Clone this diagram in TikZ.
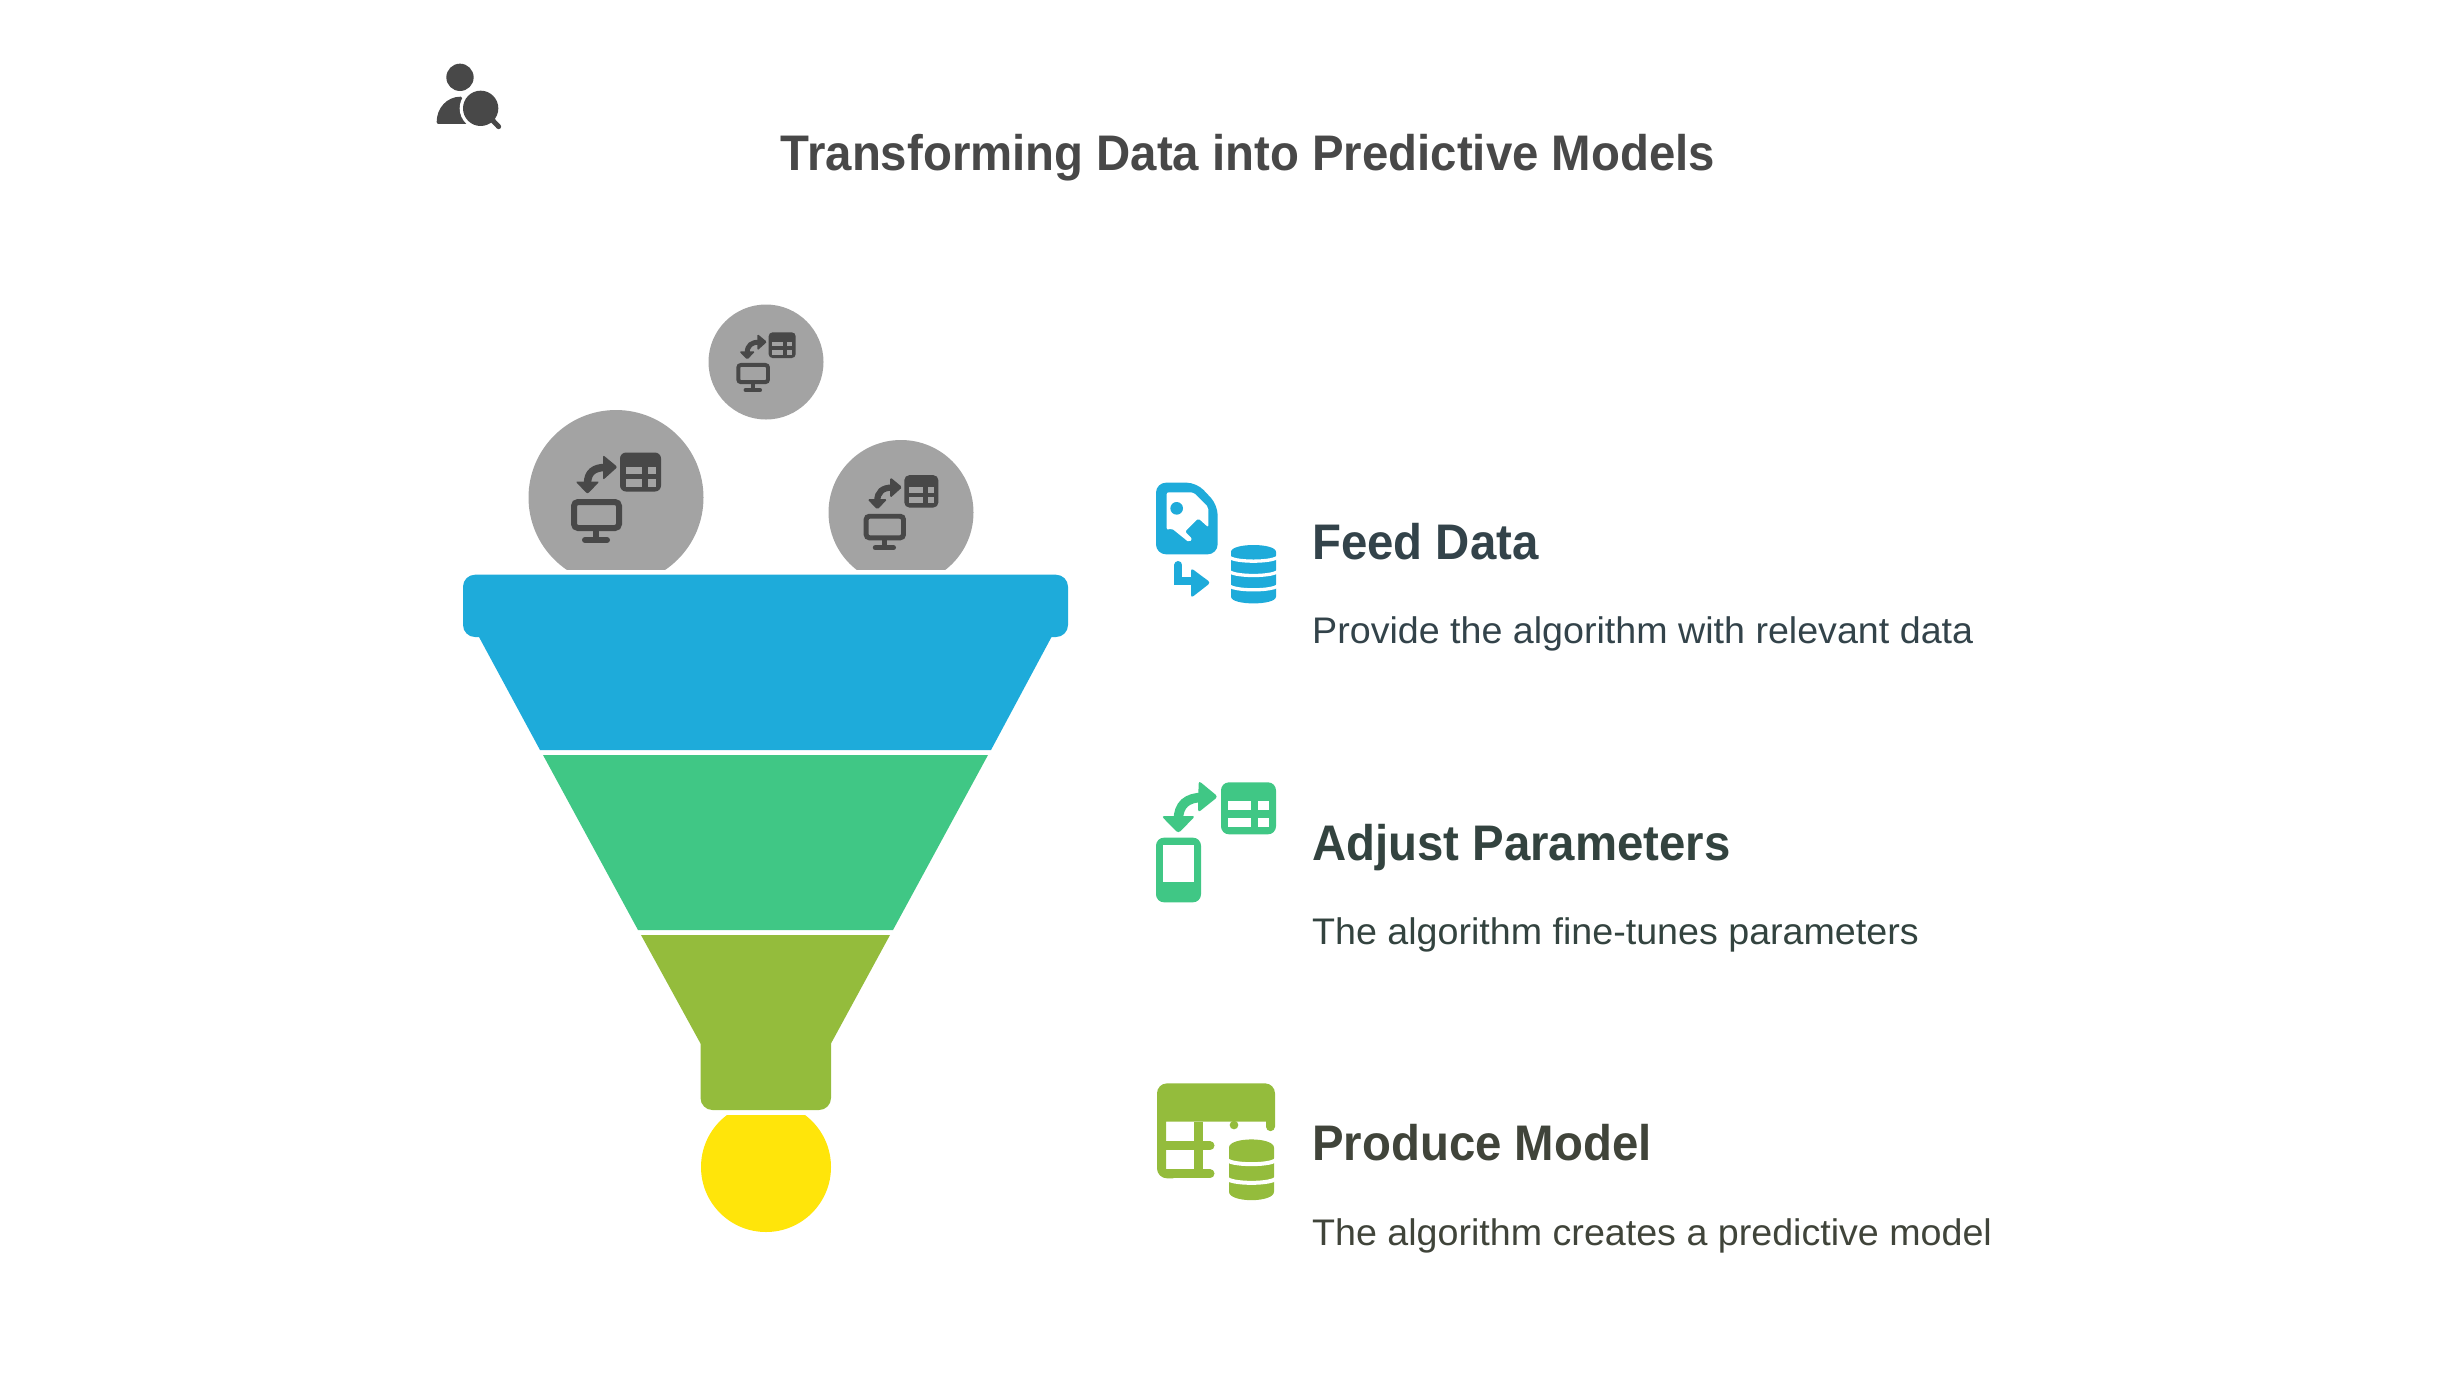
\documentclass[tikz,border=0pt]{standalone}
\usepackage{fontspec}
\setmainfont{Liberation Sans}
\newfontfamily\labelfont[FakeStretch=0.947]{Liberation Sans}
\newfontfamily\bodyfont[FakeStretch=1.017]{Liberation Sans}
\definecolor{FunnelBlue}{RGB}{30,171,218}
\definecolor{FunnelGreen}{RGB}{64,199,133}
\definecolor{FunnelOlive}{RGB}{148,188,60}
\definecolor{DropYellow}{RGB}{255,229,10}
\definecolor{BallGray}{RGB}{163,163,163}
\definecolor{IconDark}{RGB}{72,72,72}
\definecolor{FeedText}{RGB}{51,67,74}
\definecolor{AdjustText}{RGB}{51,67,63}
\definecolor{ProduceText}{RGB}{64,68,58}
\usetikzlibrary{positioning}
\tikzstyle{titletext} = [anchor=base, inner sep=0pt, text=IconDark, font=\labelfont\bfseries\fontsize{50}{60}\selectfont]
\tikzstyle{headtext} = [anchor=base west, inner sep=0pt, font=\labelfont\bfseries\fontsize{50}{60}\selectfont]
\tikzstyle{desctext} = [anchor=base west, inner sep=0pt, font=\bodyfont\fontsize{37}{44}\selectfont]
\newcommand{\swapicon}[3]{%
  \begin{scope}[shift={(#1,#2)}, scale=#3]
    \fill[IconDark, rounded corners=#3*6pt] (4,-45) rectangle (45,-6);
    \fill[BallGray] (9.5,-31) rectangle (26,-24);
    \fill[BallGray] (32,-31) rectangle (40,-24);
    \fill[BallGray] (9.5,-18.5) rectangle (26,-11);
    \fill[BallGray] (32,-18.5) rectangle (40,-11);
    \draw[IconDark, line width=#3*7.5pt] (-28.5,-14) .. controls (-28.5,-25) and (-22,-30) .. (-11,-30);
    \fill[IconDark, rounded corners=#3*2pt] (-40.5,-16) -- (-16.5,-16) -- (-28.5,-3.5) -- cycle;
    \fill[IconDark, rounded corners=#3*2pt] (-13,-42.5) -- (1.5,-30.5) -- (-13,-17.5) -- cycle;
    \draw[IconDark, line width=#3*6pt, rounded corners=#3*4pt] (-42,4.5) rectangle (3,30.5);
    \draw[IconDark, line width=#3*6pt] (-20,33) -- (-20,42);
    \draw[IconDark, line width=#3*6pt, line cap=round] (-31,42.5) -- (-9,42.5);
  \end{scope}}

\begin{document}
\begin{tikzpicture}[x=1pt, y=-1pt]
  \useasboundingbox (0,0) rectangle (2458,1385);
  % Floating balls above the funnel
  \begin{scope}
    \clip (400,280) rectangle (1100,569.6);
    \fill[BallGray] (616,497.5) circle[radius=87.5];
    \fill[BallGray] (901,512.5) circle[radius=72.5];
  \end{scope}
  \fill[BallGray] (766,362) circle[radius=57.5];
  \swapicon{616}{497.5}{1}
  \swapicon{901}{512.5}{0.83}
  \swapicon{766}{362}{0.66}
  % Funnel sections
  \fill[FunnelBlue] (540,750) -- (479,637) [rounded corners=12pt] -- (463,637) -- (463,574.7) -- (1068,574.7) -- (1068,637) [sharp corners] -- (1051.5,637) -- (991,750) -- cycle;
  \fill[FunnelGreen] (543,755) -- (988,755) -- (893,930) -- (638,930) -- cycle;
  \fill[FunnelOlive] (641,935) -- (890,935) -- (831,1043.5) [rounded corners=12pt] -- (831,1110) -- (700.5,1110) [sharp corners] -- (700.5,1043.5) -- cycle;
  \begin{scope}
    \clip (690,1115) rectangle (840,1240);
    \fill[DropYellow] (766,1167) circle[radius=65];
  \end{scope}
  % Person with magnifier
  \begin{scope}[shift={(420,50)}, scale=0.3333]
    \fill[IconDark] (120,82) circle[radius=41];
    \fill[IconDark, rounded corners=2pt] (50,222) .. controls (50,175) and (80,140) .. (128,140) -- (142,222) -- cycle;
    \fill[white] (182,175) circle[radius=63];
    \fill[IconDark] (182,175) circle[radius=53];
    \draw[IconDark, line width=5pt, line cap=round] (215,208) -- (236,230);
  \end{scope}
  % Feed icon
  \begin{scope}[shift={(1140,460)}, scale=0.3333, FunnelBlue]
    \fill[rounded corners=10pt] (48,68) -- (170,68) -- (233,135) -- (233,283) -- (48,283) -- cycle;
    \fill[white, rounded corners=2pt] (80,97) -- (160,97) -- (205,142) -- (205,202) -- (175,175) -- (135,215) -- (157,237) -- (147,247) -- (95,205) -- (80,210) -- cycle;
    \fill (110,145) circle[radius=19];
    \draw[line width=8pt, line cap=round] (115,315) -- (115,362) -- (170,362);
    \fill[rounded corners=3pt] (153,324) -- (212,368) -- (153,414) -- cycle;
    \fill (273,276) .. controls (273,248) and (408,248) .. (408,276) -- (408,410) .. controls (408,437) and (273,437) .. (273,410) -- cycle;
    \foreach \arcy in {287,330,373}
      \draw[white, line width=3.3pt] (266,\arcy) .. controls (266,\arcy+22) and (415,\arcy+22) .. (415,\arcy);
  \end{scope}
  % Adjust icon
  \begin{scope}[shift={(1140,770)}, scale=0.3333, FunnelGreen]
    \fill[rounded corners=8pt] (243,37) rectangle (408,193);
    \fill[white] (265,92) rectangle (333,120);
    \fill[white] (355,92) rectangle (387,120);
    \fill[white] (265,143) rectangle (333,172);
    \fill[white] (355,143) rectangle (387,172);
    \draw[line width=9.5pt] (115,150) .. controls (115,105) and (140,82) .. (190,82);
    \fill[rounded corners=3pt] (64,138) -- (166,138) -- (115,190) -- cycle;
    \fill[rounded corners=3pt] (176,32) -- (234,80) -- (174,128) -- cycle;
    \fill[rounded corners=8pt] (48,203) rectangle (183,397);
    \fill[white] (70,225) rectangle (162,337);
  \end{scope}
  % Produce icon
  \begin{scope}[shift={(1140,1070)}, scale=0.3333, FunnelOlive]
    \fill[rounded corners=10pt] (100,325) -- (51,325) -- (51,40) -- (405,40) [sharp corners] -- (405,170) -- (378,170) -- (378,155) -- (78,155) -- (78,297) -- (100,297) -- cycle;
    \fill (391.5,170) circle[radius=13.5];
    \fill (282,165) circle[radius=13];
    \draw[line width=9pt] (175,155) -- (175,311);
    \draw[line width=9pt, line cap=round] (78,227) -- (210,227);
    \draw[line width=9pt, line cap=round] (78,311) -- (210,311);
    \fill (267,233) .. controls (267,200) and (402,200) .. (402,233) -- (402,365) .. controls (402,399) and (267,399) .. (267,365) -- cycle;
    \foreach \arcy in {266,322}
      \draw[white, line width=4pt] (260,\arcy) .. controls (260,\arcy+22) and (409,\arcy+22) .. (409,\arcy);
  \end{scope}
  % Labels
  \node[titletext] (title) at (1248,170) {Transforming Data into Predictive Models};
  \node[headtext, text=FeedText] (feedhead) at (1312,559) {Feed Data};
  \node[desctext, text=FeedText] (feeddesc) at (1312,643) {Provide the algorithm with relevant data};
  \node[headtext, text=AdjustText] (adjusthead) at (1312,860) {Adjust Parameters};
  \node[desctext, text=AdjustText] (adjustdesc) at (1312,944) {The algorithm fine-tunes parameters};
  \node[headtext, text=ProduceText] (producehead) at (1312,1160) {Produce Model};
  \node[desctext, text=ProduceText] (producedesc) at (1312,1245) {The algorithm creates a predictive model};
\end{tikzpicture}
\end{document}
